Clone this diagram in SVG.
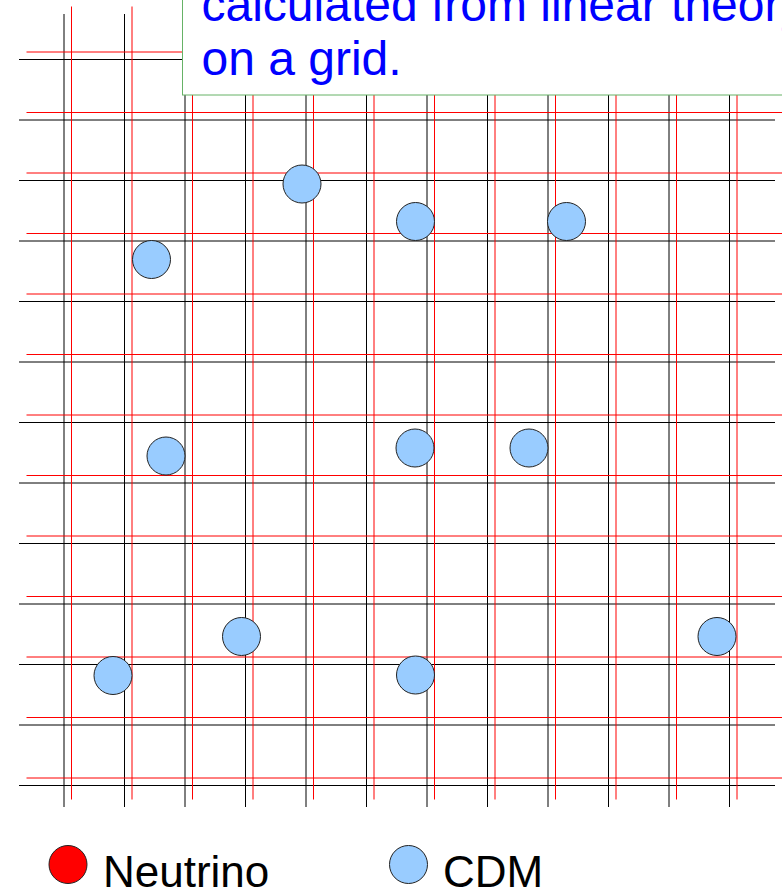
<svg xmlns="http://www.w3.org/2000/svg" width="782" height="887" viewBox="0 0 782 887">
<defs>
<style>
.bk{stroke:#000;stroke-width:1;fill:none}
.rd{stroke:#ff0000;stroke-width:1;fill:none}
.cdm{fill:#99ccff;stroke:#222;stroke-width:1}
.nu{fill:#ff0000;stroke:#222;stroke-width:1}
.big{font-family:"Liberation Sans",Arial,sans-serif;font-size:48px;fill:#0000ff}
.leg{font-family:"Liberation Sans",Arial,sans-serif;font-size:44px;fill:#000}
</style>
<g id="gridproto">
<path d="M64 14V807M124.5 14V807M185 14V807M245.5 14V807M306 14V807M366.5 14V807M427 14V807M487.5 14V807M548 14V807M608.5 14V807M669 14V807M729.5 14V807"/>
<path d="M19 59.5H775M19 120H775M19 180.5H775M19 241H775M19 301.5H775M19 362H775M19 422.5H775M19 483H775M19 543.5H775M19 604H775M19 664.5H775M19 725H775M19 785.5H775"/>
</g>
</defs>
<g id="black-grid" class="bk"><use href="#gridproto"/></g>
<g id="red-grid" class="rd"><use href="#gridproto" transform="translate(7.5,-7.5)"/></g>
<g id="connectors"></g>
<g id="cdm1"><circle class="cdm" cx="151.5" cy="259.5" r="19"/></g>
<g id="cdm2"><circle class="cdm" cx="302" cy="184" r="19"/></g>
<g id="cdm3"><circle class="cdm" cx="415.5" cy="221.5" r="19"/></g>
<g id="cdm4"><circle class="cdm" cx="566.5" cy="221.5" r="19"/></g>
<g id="cdm5"><circle class="cdm" cx="166" cy="456" r="19"/></g>
<g id="cdm6"><circle class="cdm" cx="415" cy="448" r="19"/></g>
<g id="cdm7"><circle class="cdm" cx="529" cy="448" r="19"/></g>
<g id="cdm8"><circle class="cdm" cx="241.5" cy="636.5" r="19"/></g>
<g id="cdm9"><circle class="cdm" cx="717" cy="636.5" r="19"/></g>
<g id="cdm10"><circle class="cdm" cx="113" cy="675.5" r="19"/></g>
<g id="cdm11"><circle class="cdm" cx="415.5" cy="675" r="19"/></g>
<g id="textbox">
<rect x="182.5" y="-10" width="620" height="105" fill="#ffffff" stroke="#66b266" stroke-width="1"/>
<text class="big" x="201.5" y="21">calculated from linear theory</text>
<text class="big" x="201.5" y="75">on a grid.</text>
</g>
<g id="legend-neutrino">
<circle class="nu" cx="68" cy="864.5" r="19"/>
<text class="leg" x="103" y="886.5">Neutrino</text>
</g>
<g id="legend-cdm">
<circle class="cdm" cx="408.5" cy="864.5" r="19"/>
<text class="leg" x="443" y="886.5">CDM</text>
</g>
</svg>
